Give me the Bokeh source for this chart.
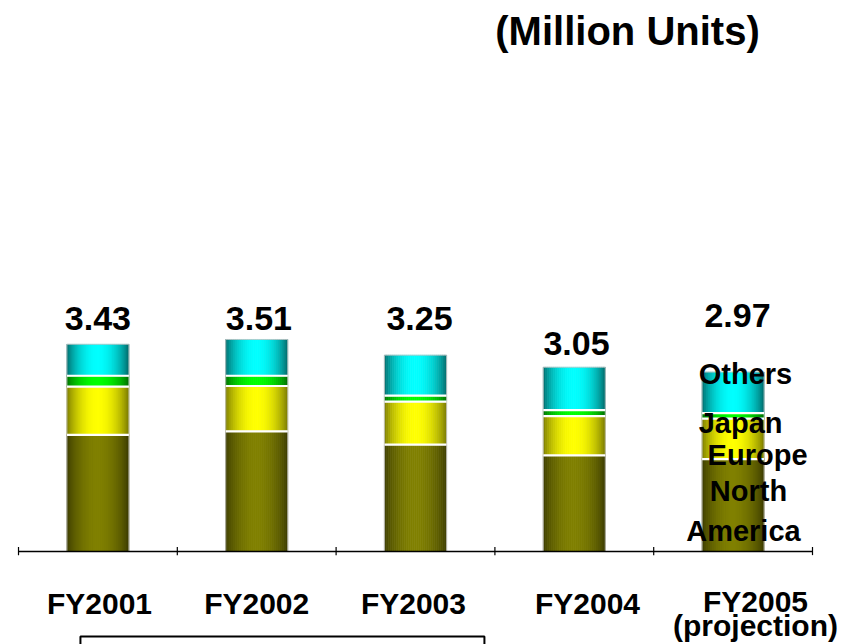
import numpy as np
from bokeh.plotting import figure
from bokeh.models import ColumnDataSource, Range1d
from bokeh.core.properties import value
from bokeh.embed import file_html
from bokeh.resources import INLINE

# ---- data (million units) ----
years = ["FY2001", "FY2002", "FY2003", "FY2004", "FY2005"]
year_notes = ["", "", "", "", "(projection)"]
north_america = [1.93, 1.99, 1.77, 1.59, 1.53]
europe = [0.80, 0.75, 0.71, 0.65, 0.67]
japan = [0.18, 0.17, 0.10, 0.10, 0.09]
others = [0.52, 0.60, 0.67, 0.71, 0.68]
totals = [3.43, 3.51, 3.25, 3.05, 2.97]

# ---- layout / style ----
FONT = value("Liberation Sans")
BAR_W = 0.39
N_STRIPS = 31
UNIT_PX = 60.4                 # pixels per million units on the y scale
LIFT = 12 / UNIT_PX            # raises text so its baseline sits where intended
# (edge, centre) colours for the cylinder shading of each stacked layer
layer_colors = [
    ("#3a3a00", "#808000"),   # North America
    ("#767600", "#ffff00"),   # Europe
    ("#006a00", "#00ff00"),   # Japan
    ("#006666", "#00ffff"),   # Others
]
# positions of the total labels (x offset from bar centre, baseline height)
total_dx = [0.0, 0.014, 0.025, 0.014, 0.028]
total_y = [3.66, 3.66, 3.66, 3.245, 3.71]
# category label positions (x offset from bar centre)
year_dx = [0.01, 0.0, -0.013, 0.083, 0.141]
# region names written beside the last bar
legend = [
    ("Others", 4.578, 2.748),
    ("Japan", 4.547, 1.921),
    ("Europe", 4.654, 1.391),
    ("North", 4.597, 0.795),
    ("America", 4.565, 0.149),
]

p = figure(
    width=849, height=644,
    x_range=Range1d(-0.1134, 5.2330), y_range=Range1d(-1.5397, 9.1225),
    x_axis_location=None, y_axis_location=None,
    toolbar_location=None, output_backend="svg",
    min_border=0, outline_line_color=None, background_fill_color="white",
)
p.grid.visible = False


def hex_mix(c0, c1, t):
    a = np.array([int(c0[j:j + 2], 16) for j in (1, 3, 5)], dtype=float)
    b = np.array([int(c1[j:j + 2], 16) for j in (1, 3, 5)], dtype=float)
    c = np.clip(np.round(a + (b - a) * t), 0, 255).astype(int)
    return "#%02x%02x%02x" % tuple(c)


u = (np.arange(N_STRIPS) + 0.5) / N_STRIPS
profile = np.sin(np.pi * u) ** 0.75
strip_w = BAR_W / N_STRIPS * 1.2

layers = [north_america, europe, japan, others]
sx, sb, st, sc = [], [], [], []
seg_x, seg_b, seg_t = [], [], []
sep_x0, sep_x1, sep_y = [], [], []
for i in range(len(years)):
    cx = i + 0.5
    base = 0.0
    for li, (vals, (edge, mid)) in enumerate(zip(layers, layer_colors)):
        top = base + vals[i]
        for k in range(N_STRIPS):
            sx.append(cx + (u[k] - 0.5) * BAR_W)
            sb.append(base)
            st.append(top)
            sc.append(hex_mix(edge, mid, profile[k]))
        seg_x.append(cx)
        seg_b.append(base)
        seg_t.append(top)
        if li > 0:
            sep_x0.append(cx - BAR_W / 2)
            sep_x1.append(cx + BAR_W / 2)
            sep_y.append(base)
        base = top

strips = ColumnDataSource(dict(x=sx, bottom=sb, top=st, color=sc))
p.vbar(x="x", width=strip_w, bottom="bottom", top="top", fill_color="color",
       line_color="color", line_width=0.4, source=strips)

# faint outline round each layer, then white gaps between layers
p.vbar(x=seg_x, width=BAR_W, bottom=seg_b, top=seg_t, fill_color=None,
       line_color="#c4c4c4", line_width=0.8)
p.segment(x0=sep_x0, x1=sep_x1, y0=sep_y, y1=sep_y, line_color="white", line_width=2.2)

# baseline with ticks between categories
n = len(years)
p.segment(x0=[0], x1=[n], y0=[0], y1=[0], line_color="black", line_width=1.4)
ticks = list(range(n + 1))
p.segment(x0=ticks, x1=ticks, y0=[-0.06] * (n + 1), y1=[0.075] * (n + 1),
          line_color="black", line_width=1.2)


def label(xs, ys, texts, size):
    p.text(x=xs, y=[y + LIFT for y in ys], text=texts, text_font=FONT,
           text_font_style="bold", text_font_size=size, text_align="center",
           text_baseline="alphabetic", text_color="black")


# totals above the bars
label([i + 0.5 + d for i, d in enumerate(total_dx)], total_y,
      [f"{t:.2f}" for t in totals], "34px")

# category labels
label([i + 0.5 + d for i, d in enumerate(year_dx)], [-1.06, -1.06, -1.06, -1.06, -1.026],
      years, "30px")
note_idx = [i for i, s in enumerate(year_notes) if s]
label([i + 0.5 + year_dx[i] for i in note_idx], [-1.424] * len(note_idx),
      [year_notes[i] for i in note_idx], "30px")

# region names
label([l[1] for l in legend], [l[2] for l in legend], [l[0] for l in legend], "29px")

# unit caption
label([3.835], [8.411], ["(Million Units)"], "40px")

# bracket box under the first three years
p.quad(left=[0.39], right=[2.934], top=[-1.407], bottom=[-2.0], fill_color=None,
       line_color="black", line_width=2)

open("out.html", "w").write(file_html(p, INLINE))
